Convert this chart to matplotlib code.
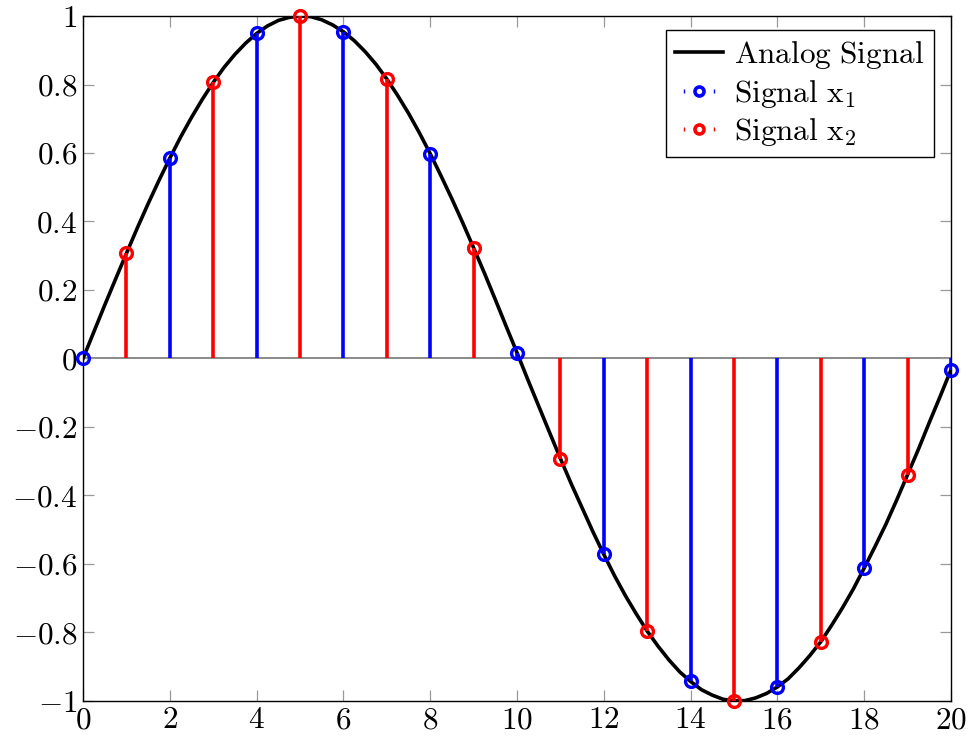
import matplotlib
matplotlib.use("Agg")
import matplotlib.pyplot as plt
from matplotlib.lines import Line2D
from matplotlib.legend_handler import HandlerLine2D, HandlerTuple
from matplotlib.ticker import FixedLocator, FuncFormatter

plt.rcParams['font.family'] = 'serif'
plt.rcParams['font.serif'] = ['cmr10']
plt.rcParams['mathtext.fontset'] = 'cm'
plt.rcParams['axes.formatter.use_mathtext'] = True

# analog curve, every quarter step
curve_x = [i * 0.25 for i in range(81)]
curve_y = [0.0, 0.078, 0.156, 0.232, 0.307, 0.381, 0.452, 0.520,
           0.585, 0.647, 0.704, 0.757, 0.806, 0.850, 0.888, 0.921,
           0.949, 0.971, 0.987, 0.996, 1.0, 0.998, 0.989, 0.974,
           0.954, 0.928, 0.896, 0.859, 0.816, 0.768, 0.716, 0.659,
           0.598, 0.533, 0.466, 0.396, 0.323, 0.249, 0.172, 0.094,
           0.017, -0.062, -0.139, -0.216, -0.292, -0.366, -0.436, -0.506,
           -0.572, -0.635, -0.693, -0.746, -0.796, -0.840, -0.880, -0.915,
           -0.943, -0.967, -0.983, -0.995, -0.9995, -0.999, -0.991, -0.978,
           -0.959, -0.935, -0.903, -0.867, -0.827, -0.779, -0.728, -0.673,
           -0.612, -0.549, -0.484, -0.413, -0.339, -0.265, -0.187, -0.111,
           -0.033]

# sampled signals
x1_n = [0, 2, 4, 6, 8, 10, 12, 14, 16, 18, 20]
x1_v = [0.0, 0.585, 0.949, 0.954, 0.598, 0.017, -0.572, -0.943, -0.959, -0.612, -0.033]
x2_n = [1, 3, 5, 7, 9, 11, 13, 15, 17, 19]
x2_v = [0.307, 0.806, 1.0, 0.816, 0.323, -0.292, -0.796, -0.9995, -0.827, -0.339]

xticks = [0, 2, 4, 6, 8, 10, 12, 14, 16, 18, 20]
yticks = [-1, -0.8, -0.6, -0.4, -0.2, 0, 0.2, 0.4, 0.6, 0.8, 1]

fs = 22.5
fig = plt.figure(figsize=(9.69, 7.41), dpi=100)
ax = fig.add_axes([0.0857, 0.054, 0.8957, 0.9244])

ax.axhline(0, color='#808080', lw=1.3, zorder=1)
ax.plot(curve_x, curve_y, color='black', lw=2.6, zorder=2, solid_joinstyle='round')


def stems(n, v, col):
    ax.vlines(n, 0, v, colors=col, lw=2.6, zorder=3)
    ax.plot(n, v, ls='none', marker='o', ms=8.5, mfc='none', mec=col, mew=2.4,
            zorder=4, clip_on=False)


stems(x1_n, x1_v, 'blue')
stems(x2_n, x2_v, 'red')

ax.set_xlim(0, 20)
ax.set_ylim(-1, 1)
ax.xaxis.set_major_locator(FixedLocator(xticks))
ax.yaxis.set_major_locator(FixedLocator(yticks))


def fmt(v, pos):
    s = ('%.1f' % v).rstrip('0').rstrip('.')
    if s in ('-0', ''):
        s = '0'
    return '$' + s + '$'


ax.xaxis.set_major_formatter(FuncFormatter(fmt))
ax.yaxis.set_major_formatter(FuncFormatter(fmt))
ax.tick_params(direction='in', length=8, width=0.9, color='#999999', labelsize=fs,
               top=True, right=True, pad=4)
for s in ax.spines.values():
    s.set_linewidth(1.0)

# legend handles
h_line = Line2D([], [], color='black', lw=2.6)
ends1 = Line2D([], [], ls='none', marker='|', ms=3, mew=1.0, color='blue')
mk1 = Line2D([], [], ls='none', marker='o', ms=6.5, mfc='none', mec='blue', mew=2.6)
ends2 = Line2D([], [], ls='none', marker='|', ms=3, mew=1.0, color='red')
mk2 = Line2D([], [], ls='none', marker='o', ms=6.5, mfc='none', mec='red', mew=2.6)

leg = ax.legend([h_line, (ends1, mk1), (ends2, mk2)],
                [r'$\mathrm{Analog\ Signal}$', r'$\mathrm{Signal\ x_1}$',
                 r'$\mathrm{Signal\ x_2}$'],
                loc='upper right', bbox_to_anchor=(0.9804, 0.9796), borderaxespad=0,
                fontsize=fs, fancybox=False, edgecolor='black', framealpha=1,
                handlelength=1.55, handletextpad=0.35, labelspacing=0.2,
                borderpad=0.3,
                handler_map={ends1: HandlerLine2D(numpoints=2),
                             ends2: HandlerLine2D(numpoints=2),
                             tuple: HandlerTuple(ndivide=1)})
leg.get_frame().set_linewidth(1.0)

fig.savefig('out.png', dpi=100)
